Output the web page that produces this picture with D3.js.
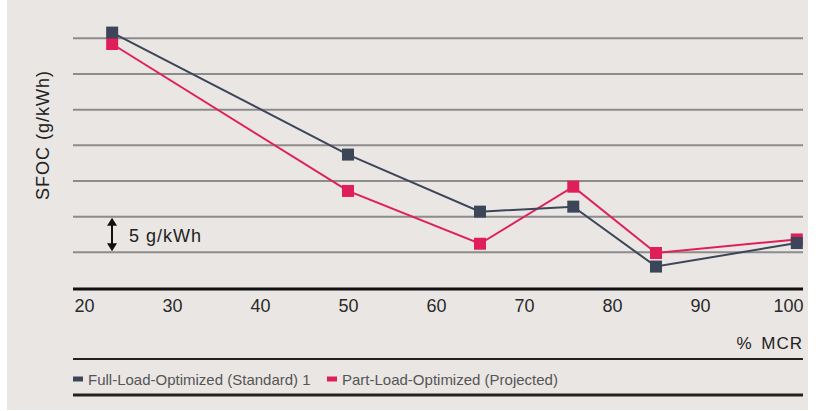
<!DOCTYPE html>
<html><head><meta charset="utf-8">
<script src="https://cdn.jsdelivr.net/npm/d3@7"></script>
<style>
html,body{margin:0;padding:0;background:#fff;}
svg{display:block;font-family:"Liberation Sans",Arial,sans-serif;}
</style></head>
<body><svg id="c" width="820" height="411"></svg>
<script>
// Data (relative SFOC, g/kWh above baseline)
const loadPct = [23.2, 50, 65, 75.6, 85, 101];
const fullLoad = [35.8, 18.7, 10.7, 11.4, 3.0, 6.3];
const partLoad = [34.2, 13.6, 6.2, 14.2, 4.9, 6.8];
const xTicks = [20, 30, 40, 50, 60, 70, 80, 90, 100];
const yGrid = [5, 10, 15, 20, 25, 30, 35];
const seriesNames = ["Full-Load-Optimized (Standard) 1", "Part-Load-Optimized (Projected)"];
const colors = ["#3c4658", "#e01f5a"];

const svg = d3.select("#c");
svg.append("rect").attr("x", 7).attr("y", 0).attr("width", 801).attr("height", 410).attr("fill", "#e9e6e4");

const x = d3.scaleLinear().domain([20, 100]).range([84, 788]);
const y = d3.scaleLinear().domain([5, 35]).range([252.3, 38.3]);
const left = 73, right = 803;

// gridlines
svg.append("g").selectAll("line").data(yGrid).join("line")
  .attr("x1", left).attr("x2", right)
  .attr("y1", d => y(d)).attr("y2", d => y(d))
  .attr("stroke", "#8c8c8c").attr("stroke-width", 2);

// x axis baseline
svg.append("line").attr("x1", left).attr("x2", right).attr("y1", 289).attr("y2", 289)
  .attr("stroke", "#111").attr("stroke-width", 3);

// x tick labels via axis
const xAxis = d3.axisBottom(x).tickValues(xTicks).tickSize(0).tickPadding(0).tickFormat(d3.format("d"));
const gx = svg.append("g").attr("transform", "translate(0,312)").call(xAxis);
gx.select(".domain").remove();
gx.selectAll("text").attr("font-size", 18).attr("fill", "#2a2a2a").attr("dy", 0)
  .attr("font-family", "Liberation Sans, Arial, sans-serif");

// y title
svg.append("text").attr("transform", "translate(49,135) rotate(-90)")
  .attr("text-anchor", "middle").attr("font-size", 18).attr("letter-spacing", 1)
  .attr("fill", "#222").text("SFOC (g/kWh)");

// 5 g/kWh annotation
const ax = 112;
svg.append("line").attr("x1", ax).attr("x2", ax).attr("y1", y(10) + 6).attr("y2", y(5) - 6)
  .attr("stroke", "#111").attr("stroke-width", 2);
svg.append("path").attr("d", `M${ax-5},${y(10)+9}L${ax},${y(10)+1}L${ax+5},${y(10)+9}Z`).attr("fill", "#111");
svg.append("path").attr("d", `M${ax-5},${y(5)-9}L${ax},${y(5)-1}L${ax+5},${y(5)-9}Z`).attr("fill", "#111");
svg.append("text").attr("x", 129).attr("y", 242).attr("font-size", 18).attr("letter-spacing", 1)
  .attr("fill", "#222").text("5 g/kWh");

// series
const all = [fullLoad, partLoad];
const line = d3.line().x((d, i) => x(loadPct[i])).y(d => y(d));
[1, 0].forEach(s => {
  svg.append("path").datum(all[s]).attr("d", line).attr("fill", "none")
    .attr("stroke", colors[s]).attr("stroke-width", 2);
});
[1, 0].forEach(s => {
  svg.append("g").selectAll("rect").data(all[s]).join("rect")
    .attr("x", (d, i) => x(loadPct[i]) - 6).attr("y", d => y(d) - 6)
    .attr("width", 12).attr("height", 12).attr("fill", colors[s]);
});

// % MCR
svg.append("text").attr("x", 803).attr("y", 349).attr("text-anchor", "end")
  .attr("font-size", 17).attr("letter-spacing", 1).attr("word-spacing", 3)
  .attr("fill", "#222").text("% MCR");
svg.append("line").attr("x1", left).attr("x2", right).attr("y1", 359).attr("y2", 359)
  .attr("stroke", "#222").attr("stroke-width", 2);

// legend
const legX = [73, 327];
seriesNames.forEach((n, i) => {
  svg.append("rect").attr("x", legX[i]).attr("y", 376.5).attr("width", 10).attr("height", 5).attr("fill", colors[i]);
  svg.append("text").attr("x", legX[i] + 15).attr("y", 384.5).attr("font-size", 15).attr("fill", "#555").text(n);
});
svg.append("line").attr("x1", left).attr("x2", right).attr("y1", 395).attr("y2", 395)
  .attr("stroke", "#222").attr("stroke-width", 3);
</script></body></html>
